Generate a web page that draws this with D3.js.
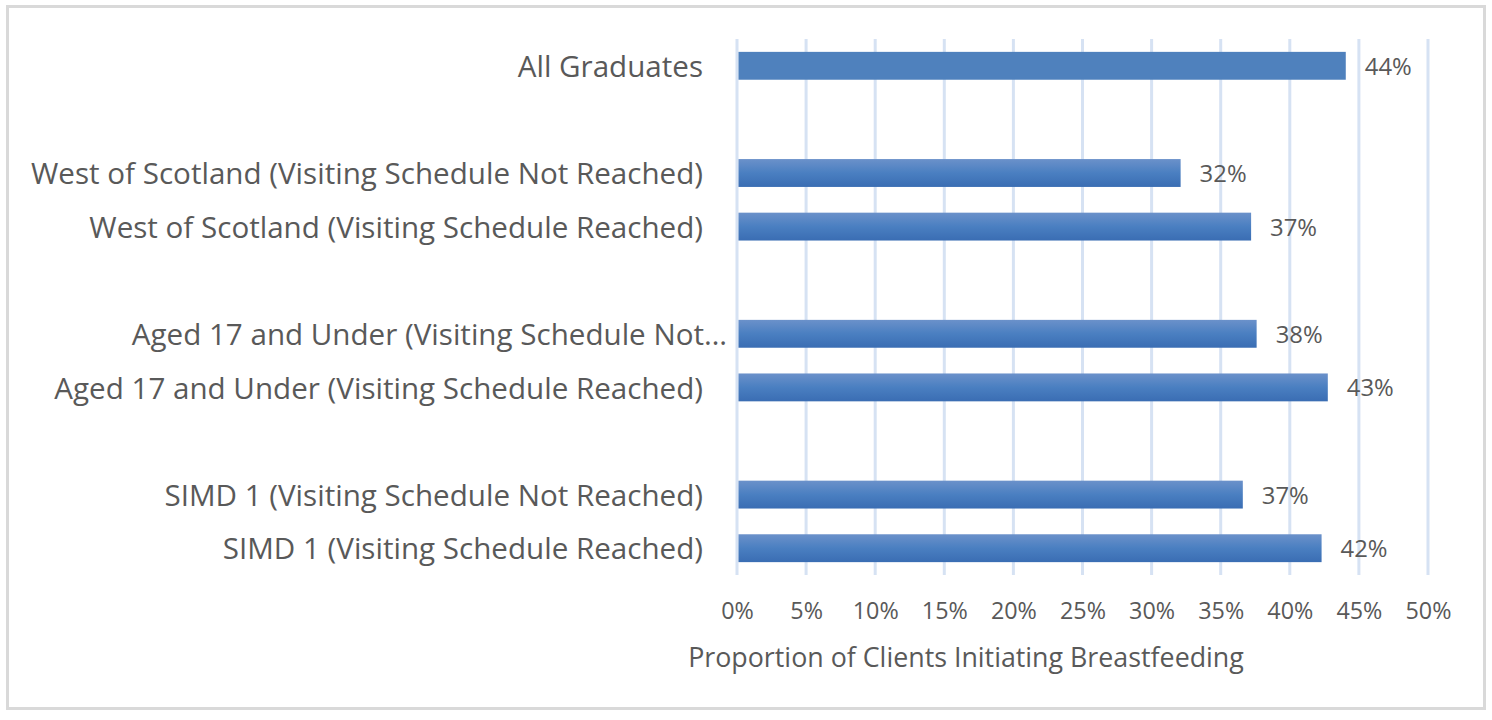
<!DOCTYPE html>
<html>
<head>
<meta charset="utf-8">
<script src="https://cdn.jsdelivr.net/npm/d3@7"></script>
<style>
  html, body { margin: 0; padding: 0; background: #fff; }
  svg { display: block; font-family: "Open Sans", sans-serif; }
</style>
</head>
<body>
<svg id="chart" width="1492" height="720"></svg>
<script>
// rows top to bottom; empty strings are the gaps between groups
const categories = [
  "All Graduates",
  "",
  "West of Scotland (Visiting Schedule Not Reached)",
  "West of Scotland (Visiting Schedule Reached)",
  "",
  "Aged 17 and Under (Visiting Schedule Not\u2026",
  "Aged 17 and Under (Visiting Schedule Reached)",
  "",
  "SIMD 1 (Visiting Schedule Not Reached)",
  "SIMD 1 (Visiting Schedule Reached)"
];
const values = [0.4405, null, 0.321, 0.372, null, 0.376, 0.4275, null, 0.366, 0.423];
const valueLabels = ["44%", "", "32%", "37%", "", "38%", "43%", "", "37%", "42%"];
const xTicks = [0, 0.05, 0.10, 0.15, 0.20, 0.25, 0.30, 0.35, 0.40, 0.45, 0.50];
const axisTitle = "Proportion of Clients Initiating Breastfeeding";

const svg = d3.select("#chart");
const textColor = "#595959";

// outer chart border
svg.append("rect")
  .attr("x", 7.5).attr("y", 6.5)
  .attr("width", 1477).attr("height", 702)
  .attr("fill", "#fff")
  .attr("stroke", "#d9d9d9")
  .attr("stroke-width", 3);

const x = d3.scaleLinear().domain([0, 0.5]).range([737, 1428]);
const y = d3.scaleBand()
  .domain(d3.range(categories.length))
  .range([39, 575])
  .paddingInner(0.48)
  .paddingOuter(0.24);

// bar gradient
const defs = svg.append("defs");
const grad = defs.append("linearGradient")
  .attr("id", "barGrad")
  .attr("x1", 0).attr("y1", 0).attr("x2", 0).attr("y2", 1);
grad.append("stop").attr("offset", "0%").attr("stop-color", "#6b91ca");
grad.append("stop").attr("offset", "50%").attr("stop-color", "#4a7fc1");
grad.append("stop").attr("offset", "100%").attr("stop-color", "#3a6db3");

// measure helper: font size so that text spans a given width
const probe = svg.append("text").attr("font-size", 100).attr("visibility", "hidden");
function fitSize(str, width) {
  probe.text(str);
  return 100 * width / probe.node().getComputedTextLength();
}
const catSize = fitSize("West of Scotland (Visiting Schedule Not Reached)", 672);
const valSize = fitSize("44%", 47);
const tickSize = fitSize("10%", 46);
const titleSize = fitSize(axisTitle, 556);
probe.remove();

// gridlines
svg.append("g")
  .selectAll("line")
  .data(xTicks)
  .join("line")
  .attr("x1", d => x(d)).attr("x2", d => x(d))
  .attr("y1", 39).attr("y2", 575)
  .attr("stroke", "#d6e2f3")
  .attr("stroke-width", 3);

const rows = categories.map((c, i) => ({ i, label: c, value: values[i], text: valueLabels[i] }));
const bars = rows.filter(d => d.value != null);

// bars
svg.append("g")
  .selectAll("rect")
  .data(bars)
  .join("rect")
  .attr("x", x(0) + 1.5)
  .attr("y", d => y(d.i))
  .attr("width", d => x(d.value) - x(0) - 1.5)
  .attr("height", y.bandwidth())
  .attr("fill", d => d.i === 0 ? "#4f81bd" : "url(#barGrad)");

// data labels
svg.append("g")
  .selectAll("text")
  .data(bars)
  .join("text")
  .attr("x", d => x(d.value) + 19)
  .attr("y", d => y(d.i) + y.bandwidth() / 2)
  .attr("dy", "0.38em")
  .attr("font-size", valSize)
  .attr("fill", textColor)
  .text(d => d.text);

// category labels
svg.append("g")
  .selectAll("text")
  .data(rows.filter(d => d.label !== ""))
  .join("text")
  .attr("x", d => d.label.endsWith("\u2026") ? 727 : 703)
  .attr("y", d => y(d.i) + y.bandwidth() / 2)
  .attr("dy", "0.38em")
  .attr("text-anchor", "end")
  .attr("font-size", catSize)
  .attr("fill", textColor)
  .text(d => d.label);

// x axis labels
const xAxis = svg.append("g")
  .attr("transform", "translate(0,575)")
  .call(d3.axisBottom(x).tickValues(xTicks).tickFormat(d3.format(".0%")).tickSize(0).tickPadding(27));
xAxis.select(".domain").remove();
xAxis.selectAll("text")
  .attr("font-family", "Open Sans, sans-serif")
  .attr("font-size", tickSize)
  .attr("fill", textColor);

// axis title
svg.append("text")
  .attr("x", 966)
  .attr("y", 667)
  .attr("text-anchor", "middle")
  .attr("font-size", titleSize)
  .attr("fill", textColor)
  .text(axisTitle);
</script>
</body>
</html>
